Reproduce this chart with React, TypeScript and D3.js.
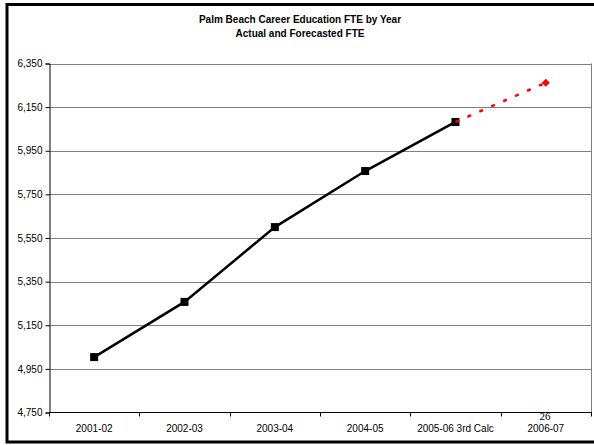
import React, { useEffect, useRef } from "react";
import * as d3 from "d3";

const categories = ["2001-02", "2002-03", "2003-04", "2004-05", "2005-06 3rd Calc", "2006-07"];
const actualValues = [5004, 5257, 5600, 5857, 6082];
const forecastValues = [6082, 6262];
const yTicks = [4750, 4950, 5150, 5350, 5550, 5750, 5950, 6150, 6350];
const titleLines = ["Palm Beach Career Education FTE by Year", "Actual and Forecasted FTE"];

const W = 594;
const H = 445;

export default function App() {
  const ref = useRef<SVGSVGElement>(null);

  useEffect(() => {
    const svg = d3.select(ref.current);
    svg.selectAll("*").remove();

    const left = 49, right = 591, top = 63.5, bottom = 412.5;
    const x = d3.scaleBand().domain(categories).range([left, right]);
    const y = d3.scaleLinear().domain([4750, 6350]).range([bottom, top]);
    const cx = (c: string) => (x(c) as number) + x.bandwidth() / 2;

    svg.append("rect").attr("width", W).attr("height", H).attr("fill", "#fff");

    // outer frame
    svg.append("rect").attr("x", 7).attr("y", 4.5).attr("width", 600).attr("height", 437.5)
      .attr("fill", "none").attr("stroke", "#000").attr("stroke-width", 3);

    // title
    const tg = svg.append("g").attr("font-family", "Liberation Sans, Arial, sans-serif")
      .attr("font-weight", "bold").attr("font-size", 10).attr("text-anchor", "middle");
    titleLines.forEach((t, i) => {
      tg.append("text").attr("x", 300).attr("y", 23 + i * 14).text(t);
    });

    // gridlines
    svg.append("g").selectAll("line").data(yTicks.slice(1)).join("line")
      .attr("x1", left).attr("x2", right)
      .attr("y1", (d) => Math.round(y(d)) + 0.5).attr("y2", (d) => Math.round(y(d)) + 0.5)
      .attr("stroke", "#808080").attr("stroke-width", 1);
    // right plot border
    svg.append("line").attr("x1", right + 0.5).attr("x2", right + 0.5)
      .attr("y1", top).attr("y2", bottom).attr("stroke", "#808080");

    // y axis
    const ya = svg.append("g").attr("transform", `translate(${left + 0.5},0)`)
      .call(d3.axisLeft(y).tickValues(yTicks).tickSize(4).tickFormat(d3.format(",")));
    ya.select(".domain").attr("stroke", "#000");
    ya.selectAll("line").attr("stroke", "#000");
    ya.selectAll("text").attr("font-family", "Liberation Sans, Arial, sans-serif")
      .attr("font-size", 10).attr("fill", "#000").attr("x", -7);

    // x axis
    svg.append("line").attr("x1", left).attr("x2", right + 1)
      .attr("y1", bottom).attr("y2", bottom).attr("stroke", "#000");
    const bounds = categories.map((c) => x(c) as number).concat([right]);
    svg.append("g").selectAll("line").data(bounds).join("line")
      .attr("x1", (d) => Math.round(d) + 0.5).attr("x2", (d) => Math.round(d) + 0.5)
      .attr("y1", bottom).attr("y2", bottom + 4).attr("stroke", "#000");
    svg.append("g").selectAll("text").data(categories).join("text")
      .attr("x", (d) => cx(d)).attr("y", 432)
      .attr("text-anchor", "middle").attr("font-family", "Liberation Sans, Arial, sans-serif")
      .attr("font-size", 10).text((d) => d);

    // page number artifact
    svg.append("text").attr("x", 545).attr("y", 420).attr("text-anchor", "middle")
      .attr("font-family", "Liberation Serif, Times New Roman, serif").attr("font-size", 11).text("26");

    // actual line
    const line = d3.line<number>().x((_, i) => cx(categories[i])).y((d) => y(d));
    svg.append("path").datum(actualValues).attr("d", line).attr("fill", "none")
      .attr("stroke", "#000").attr("stroke-width", 2.5);
    svg.append("g").selectAll("rect").data(actualValues).join("rect")
      .attr("x", (_, i) => cx(categories[i]) - 4).attr("y", (d) => y(d) - 4)
      .attr("width", 8).attr("height", 8).attr("fill", "#000");

    // forecast line
    const fline = d3.line<number>().x((_, i) => cx(categories[i + 4])).y((d) => y(d));
    svg.append("path").datum(forecastValues).attr("d", fline).attr("fill", "none")
      .attr("stroke", "#ff0000").attr("stroke-width", 2.5).attr("stroke-dasharray", "4,9");
    const last = forecastValues[forecastValues.length - 1];
    const lx = cx(categories[5]), ly = y(last);
    svg.append("path").attr("d", `M${lx},${ly - 4}L${lx + 4},${ly}L${lx},${ly + 4}L${lx - 4},${ly}Z`)
      .attr("fill", "#ff0000");
  }, []);

  return (
    <svg ref={ref} width={W} height={H} style={{ position: "absolute", left: 0, top: 0 }} />
  );
}
